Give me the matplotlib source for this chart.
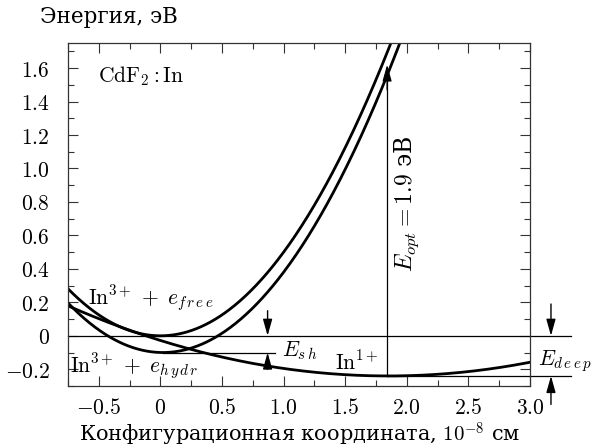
import numpy as np
import matplotlib.pyplot as plt
from matplotlib.ticker import MultipleLocator, FuncFormatter

plt.rcParams['font.family'] = ['DejaVu Serif']
plt.rcParams['mathtext.fontset'] = 'cm'

# configuration-coordinate parabolas: E(q) = e_min + k * (q - q_min)^2
curve_names = ['free', 'hydr', 'deep']
q_min = [0.0, 0.02, 1.85]
e_min = [0.0, -0.10, -0.24]
stiffness = [0.50, 0.50, 0.062]

x_ticks = [-0.5, 0, 0.5, 1.0, 1.5, 2.0, 2.5, 3.0]
y_ticks = [-0.2, 0, 0.2, 0.4, 0.6, 0.8, 1.0, 1.2, 1.4, 1.6]

# energy levels (y) and their horizontal extent (x0, x1)
level_e = [0.0, -0.10, -0.24]
level_x0 = [-0.75, 0.02, 1.84]
level_x1 = [3.33, 0.93, 3.33]

# optical transition
q_opt = 1.84
e_opt_top = 1.62

# E_sh / E_deep marker arrows: x, (start, end) of the two arrows
esh_x = 0.87
esh_down = (0.15, 0.0)
esh_up = (-0.20, -0.10)
edeep_x = 3.17
edeep_down = (0.19, 0.0)
edeep_up = (-0.41, -0.24)


def fmt(v, pos):
    if abs(v) < 1e-9:
        return '$0$'
    return '$%.1f$' % v


def arrow(ax, x, y0, y1, lw=1.0):
    ax.annotate('', xy=(x, y1), xytext=(x, y0), annotation_clip=False,
                arrowprops=dict(arrowstyle='-|>,head_length=1.0,head_width=0.28',
                                mutation_scale=10, color='black', lw=lw,
                                shrinkA=0, shrinkB=0))


def main():
    fig = plt.figure(figsize=(5.96, 4.48), dpi=100)
    ax = fig.add_axes([0.1141, 0.1384, 0.7752, 0.7656])

    q = np.linspace(-0.75, 3.0, 600)
    for qm, em, k in zip(q_min, e_min, stiffness):
        ax.plot(q, em + k * (q - qm) ** 2, color='black', lw=2.0)

    for e, x0, x1 in zip(level_e, level_x0, level_x1):
        ax.plot([x0, x1], [e, e], color='black', lw=0.9, clip_on=False)

    ax.plot([q_opt, q_opt], [level_e[2], e_opt_top - 0.05], color='black', lw=0.9)
    arrow(ax, q_opt, e_opt_top - 0.15, e_opt_top, lw=0.9)

    arrow(ax, esh_x, *esh_down)
    arrow(ax, esh_x, *esh_up)
    arrow(ax, edeep_x, *edeep_down)
    arrow(ax, edeep_x, *edeep_up)

    ax.set_xlim(-0.75, 3.0)
    ax.set_ylim(-0.3, 1.75)
    ax.set_xticks(x_ticks)
    ax.set_yticks(y_ticks)
    ax.xaxis.set_minor_locator(MultipleLocator(0.25))
    ax.yaxis.set_minor_locator(MultipleLocator(0.1))
    ax.xaxis.set_major_formatter(FuncFormatter(fmt))
    ax.yaxis.set_major_formatter(FuncFormatter(fmt))
    ax.tick_params(which='both', direction='in', top=True, right=True,
                   width=0.8, color='#333333')
    ax.tick_params(which='major', length=7, labelsize=15.5)
    ax.tick_params(which='minor', length=4)
    ax.tick_params(axis='y', pad=13)
    ax.tick_params(axis='x', pad=8)
    for s in ax.spines.values():
        s.set_linewidth(0.9)
        s.set_color('#333333')

    ax.text(-0.51, 1.55, r'$\mathrm{CdF_2 : In}$', fontsize=15.5, va='center')
    ax.text(-0.585, 0.22, r'$\mathrm{In}^{3+}\,+\;e_{f\,r\,e\,e}$', fontsize=15.5, va='center')
    ax.text(-0.73, -0.185, r'$\mathrm{In}^{3+}\,+\;e_{h\,y\,d\,r}$', fontsize=15.5, va='center')
    ax.text(0.99, -0.09, r'$E_{s\,h}$', fontsize=15.5, va='center')
    ax.text(1.415, -0.203, r'$\mathrm{In}^{1+}$', fontsize=15.5, va='baseline')
    ax.text(3.065, -0.15, r'$E_{d\,e\,e\,p}$', fontsize=15.5, va='center', clip_on=False)
    ax.text(2.0, 0.79, r'$E_{opt}=1.9$ эВ', fontsize=17, rotation=90,
            ha='center', va='center')

    fig.text(0.067, 0.962, 'Энергия, эВ', fontsize=15.5, va='center', ha='left')
    fig.text(0.503, 0.03, r'Конфигурационная координата, $10^{-8}$ см',
             fontsize=15, va='center', ha='center')

    fig.savefig('out.png', dpi=100)


if __name__ == '__main__':
    main()
